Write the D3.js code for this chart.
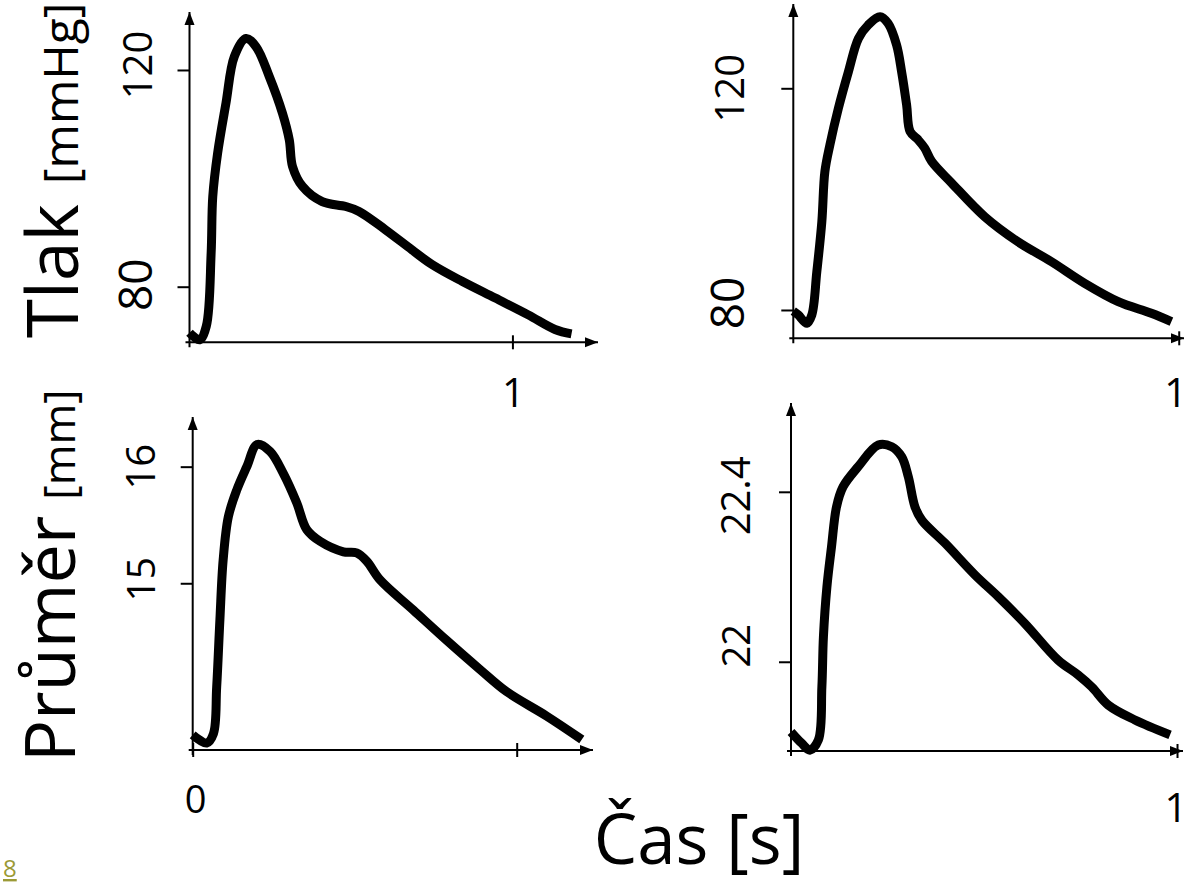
<!DOCTYPE html>
<html>
<head>
<meta charset="utf-8">
<script src="https://cdn.jsdelivr.net/npm/d3@7"></script>
<style>
  body { margin: 0; background: #fff; }
  svg { display: block; }
</style>
</head>
<body>
<svg id="chart" width="1187" height="884"></svg>
<script>
// ---------------- DATA ----------------
// Top-left: pressure (Tlak) [mmHg] vs time [s]
const casTlakLevy = [0.000, 0.031, 0.052, 0.067, 0.072, 0.087, 0.113, 0.139, 0.175, 0.206, 0.247, 0.288, 0.309, 0.319, 0.350, 0.411, 0.484, 0.525, 0.607, 0.689, 0.751, 0.844, 0.947, 1.049, 1.132, 1.183];
const tlakLevy    = [71.5, 70.2, 72.7, 86.2, 96.6, 104.6, 113.9, 122.5, 125.8, 124.3, 118.8, 112.0, 107.1, 102.2, 98.5, 95.7, 94.8, 93.9, 90.5, 86.8, 84.1, 81.0, 77.9, 74.8, 72.1, 71.3];

// Top-right: pressure (Tlak) [mmHg] vs time [s]
const casTlakPravy = [0.000, 0.013, 0.035, 0.048, 0.061, 0.074, 0.082, 0.095, 0.117, 0.143, 0.169, 0.194, 0.225, 0.246, 0.268, 0.281, 0.294, 0.303, 0.324, 0.341, 0.359, 0.411, 0.497, 0.583, 0.670, 0.756, 0.843, 0.929, 0.981];
const tlakPravy    = [79.8, 79.1, 77.6, 79.1, 86.9, 95.9, 105.0, 109.8, 116.4, 123.0, 129.0, 131.4, 132.9, 131.7, 127.8, 123.0, 117.0, 112.2, 110.7, 109.2, 106.8, 102.9, 96.8, 92.3, 88.7, 84.8, 81.5, 79.4, 77.9];

// Bottom-left: diameter (Průměr) [mm] vs time [s]
const casPrumerLevy = [0.000, 0.043, 0.064, 0.074, 0.084, 0.094, 0.110, 0.136, 0.167, 0.199, 0.239, 0.280, 0.321, 0.352, 0.393, 0.465, 0.506, 0.537, 0.578, 0.681, 0.784, 0.887, 0.969, 1.093, 1.201];
const prumerLevy    = [13.70, 13.63, 13.71, 14.11, 14.69, 15.20, 15.57, 15.80, 16.00, 16.19, 16.13, 15.94, 15.69, 15.46, 15.36, 15.27, 15.26, 15.19, 15.03, 14.77, 14.51, 14.26, 14.07, 13.86, 13.66];

// Bottom-right: diameter (Průměr) [mm] vs time [s]
const casPrumerPravy = [0.000, 0.028, 0.049, 0.071, 0.080, 0.084, 0.093, 0.105, 0.118, 0.135, 0.174, 0.226, 0.261, 0.287, 0.304, 0.321, 0.339, 0.399, 0.477, 0.537, 0.606, 0.692, 0.744, 0.779, 0.822, 0.891, 0.982];
const prumerPravy    = [21.835, 21.808, 21.792, 21.816, 21.941, 22.059, 22.176, 22.271, 22.365, 22.412, 22.459, 22.510, 22.506, 22.482, 22.435, 22.365, 22.333, 22.279, 22.204, 22.153, 22.090, 22.004, 21.969, 21.941, 21.898, 21.863, 21.828];

// Tick values and labels
const yTicksTlakLevy   = [80, 120];
const yTicksTlakPravy  = [80, 120];
const yTicksPrumerLevy = [15, 16];
const yTicksPrumerPravy = [22, 22.4];
const xTicksTlakLevy   = [1];
const xTicksTlakPravy  = [1];
const xTicksPrumerLevy = [0, 1];
const xTicksPrumerPravy = [1];
const xLabelsTlakLevy   = ["1"];
const xLabelsTlakPravy  = ["1"];
const xLabelsPrumerLevy = ["0", ""];
const xLabelsPrumerPravy = ["1"];

const yTitleTlak = "Tlak";
const yUnitTlak = "[mmHg]";
const yTitlePrumer = "Průměr";
const yUnitPrumer = "[mm]";
const xTitle = "Čas [s]";
const footnote = "8";

// ---------------- LAYOUT / STYLE ----------------
const FONT = "'Open Sans', 'Noto Sans', 'DejaVu Sans', sans-serif";
const panels = [
  { t: casTlakLevy, v: tlakLevy, yTicks: yTicksTlakLevy, xTicks: xTicksTlakLevy, xLabels: xLabelsTlakLevy,
    left: 189.5, right: 598, top: 12, bottom: 342.3, xDom: [0, 1.265], yDom: [69.74, 130.7],
    yLab: { base: 152, shift: [-2, -5], size: [46, 40] }, xLab: { base: 407, size: 40, dx: [1] } },
  { t: casTlakPravy, v: tlakPravy, yTicks: yTicksTlakPravy, xTicks: xTicksTlakPravy, xLabels: xLabelsTlakPravy,
    left: 793.3, right: 1184, top: 4, bottom: 338.3, xDom: [0, 1.0137], yDom: [74.89, 135.21],
    yLab: { base: 744, shift: [-7, 0], size: [46, 40] }, xLab: { base: 407, size: 40, dx: [-3] } },
  { t: casPrumerLevy, v: prumerLevy, yTicks: yTicksPrumerLevy, xTicks: xTicksPrumerLevy, xLabels: xLabelsPrumerLevy,
    left: 192.7, right: 593, top: 417, bottom: 750, xDom: [0, 1.2355], yDom: [13.570, 16.426],
    yLab: { base: 155, shift: [-4, 0], size: [39, 40] }, xLab: { base: 813, size: 38, dx: [3, 0] } },
  { t: casPrumerPravy, v: prumerPravy, yTicks: yTicksPrumerPravy, xTicks: xTicksPrumerPravy, xLabels: xLabelsPrumerPravy,
    left: 791, right: 1183, top: 403, bottom: 751, xDom: [0, 1.0155], yDom: [21.790, 22.609],
    yLab: { base: 750, shift: [-16, 4], size: [38, 40] }, xLab: { base: 822, size: 40, dx: [-1] } }
];

// ---------------- DRAW ----------------
const svg = d3.select("#chart");
const defs = svg.append("defs");
defs.append("marker")
  .attr("id", "arrow")
  .attr("markerUnits", "userSpaceOnUse")
  .attr("markerWidth", 14).attr("markerHeight", 12)
  .attr("viewBox", "0 -6 14 12")
  .attr("refX", 13).attr("refY", 0)
  .attr("orient", "auto")
  .append("path")
  .attr("d", "M0,-5L13,0L0,5Z")
  .attr("fill", "#000");

panels.forEach(p => {
  const x = d3.scaleLinear().domain(p.xDom).range([p.left, p.right]);
  const y = d3.scaleLinear().domain(p.yDom).range([p.bottom, p.top]);
  const g = svg.append("g");

  // y ticks
  const yAxis = d3.axisLeft(y).tickValues(p.yTicks).tickSize(12).tickFormat(() => "");
  const ya = g.append("g").attr("transform", `translate(${p.left},0)`).call(yAxis);
  ya.select(".domain").remove();
  ya.selectAll(".tick line").attr("stroke", "#000").attr("stroke-width", 2);

  // x ticks (crossing the axis)
  const xAxis = d3.axisBottom(x).tickValues(p.xTicks).tickSize(7).tickFormat(() => "");
  const xa = g.append("g").attr("transform", `translate(0,${p.bottom})`).call(xAxis);
  xa.select(".domain").remove();
  xa.selectAll(".tick line").attr("y1", -7).attr("y2", 7).attr("stroke", "#000").attr("stroke-width", 2);

  // axis lines with arrows
  g.append("line")
    .attr("x1", p.left).attr("y1", p.bottom + 5)
    .attr("x2", p.left).attr("y2", p.top)
    .attr("stroke", "#000").attr("stroke-width", 2)
    .attr("marker-end", "url(#arrow)");
  g.append("line")
    .attr("x1", p.left - 4).attr("y1", p.bottom)
    .attr("x2", p.right).attr("y2", p.bottom)
    .attr("stroke", "#000").attr("stroke-width", 2)
    .attr("marker-end", "url(#arrow)");

  // y tick labels (rotated)
  g.selectAll(".ylab").data(p.yTicks).enter().append("text")
    .attr("transform", (d, i) => `translate(${p.yLab.base},${y(d) + p.yLab.shift[i]}) rotate(-90)`)
    .attr("text-anchor", "middle")
    .attr("font-family", FONT)
    .attr("font-size", (d, i) => p.yLab.size[i])
    .attr("fill", "#000")
    .text(d => String(d));

  // x tick labels
  g.selectAll(".xlab").data(p.xTicks).enter().append("text")
    .attr("x", (d, i) => x(d) + p.xLab.dx[i])
    .attr("y", p.xLab.base)
    .attr("text-anchor", "middle")
    .attr("font-family", FONT)
    .attr("font-size", p.xLab.size)
    .attr("fill", "#000")
    .text((d, i) => p.xLabels[i]);

  // curve
  const pts = p.t.map((tt, i) => [tt, p.v[i]]);
  const line = d3.line()
    .x(d => x(d[0]))
    .y(d => y(d[1]))
    .curve(d3.curveCatmullRom.alpha(0.5));
  g.append("path")
    .datum(pts)
    .attr("d", line)
    .attr("fill", "none")
    .attr("stroke", "#000")
    .attr("stroke-width", 9)
    .attr("stroke-linejoin", "round")
    .attr("stroke-linecap", "butt");
});

// Y axis titles (rotated)
function yTitle(bx, by, big, small, bigSize, smallSize, gap) {
  const t = svg.append("text")
    .attr("transform", `translate(${bx},${by}) rotate(-90)`)
    .attr("font-family", FONT)
    .attr("fill", "#000");
  t.append("tspan").attr("font-size", bigSize).text(big);
  t.append("tspan").attr("font-size", smallSize).attr("dx", gap).text(small);
}
yTitle(78, 338, yTitleTlak, yUnitTlak, 71, 48, 20);
yTitle(75, 762, yTitlePrumer, yUnitPrumer, 70, 44, 16);

// X title
svg.append("text")
  .attr("x", 699).attr("y", 864)
  .attr("text-anchor", "middle")
  .attr("font-family", FONT)
  .attr("font-size", 69)
  .attr("fill", "#000")
  .text(xTitle);

// footnote link
svg.append("text")
  .attr("x", 3).attr("y", 877)
  .attr("font-family", FONT)
  .attr("font-size", 24)
  .attr("fill", "#9b9a36")
  .attr("text-decoration", "underline")
  .text(footnote);
</script>
</body>
</html>
